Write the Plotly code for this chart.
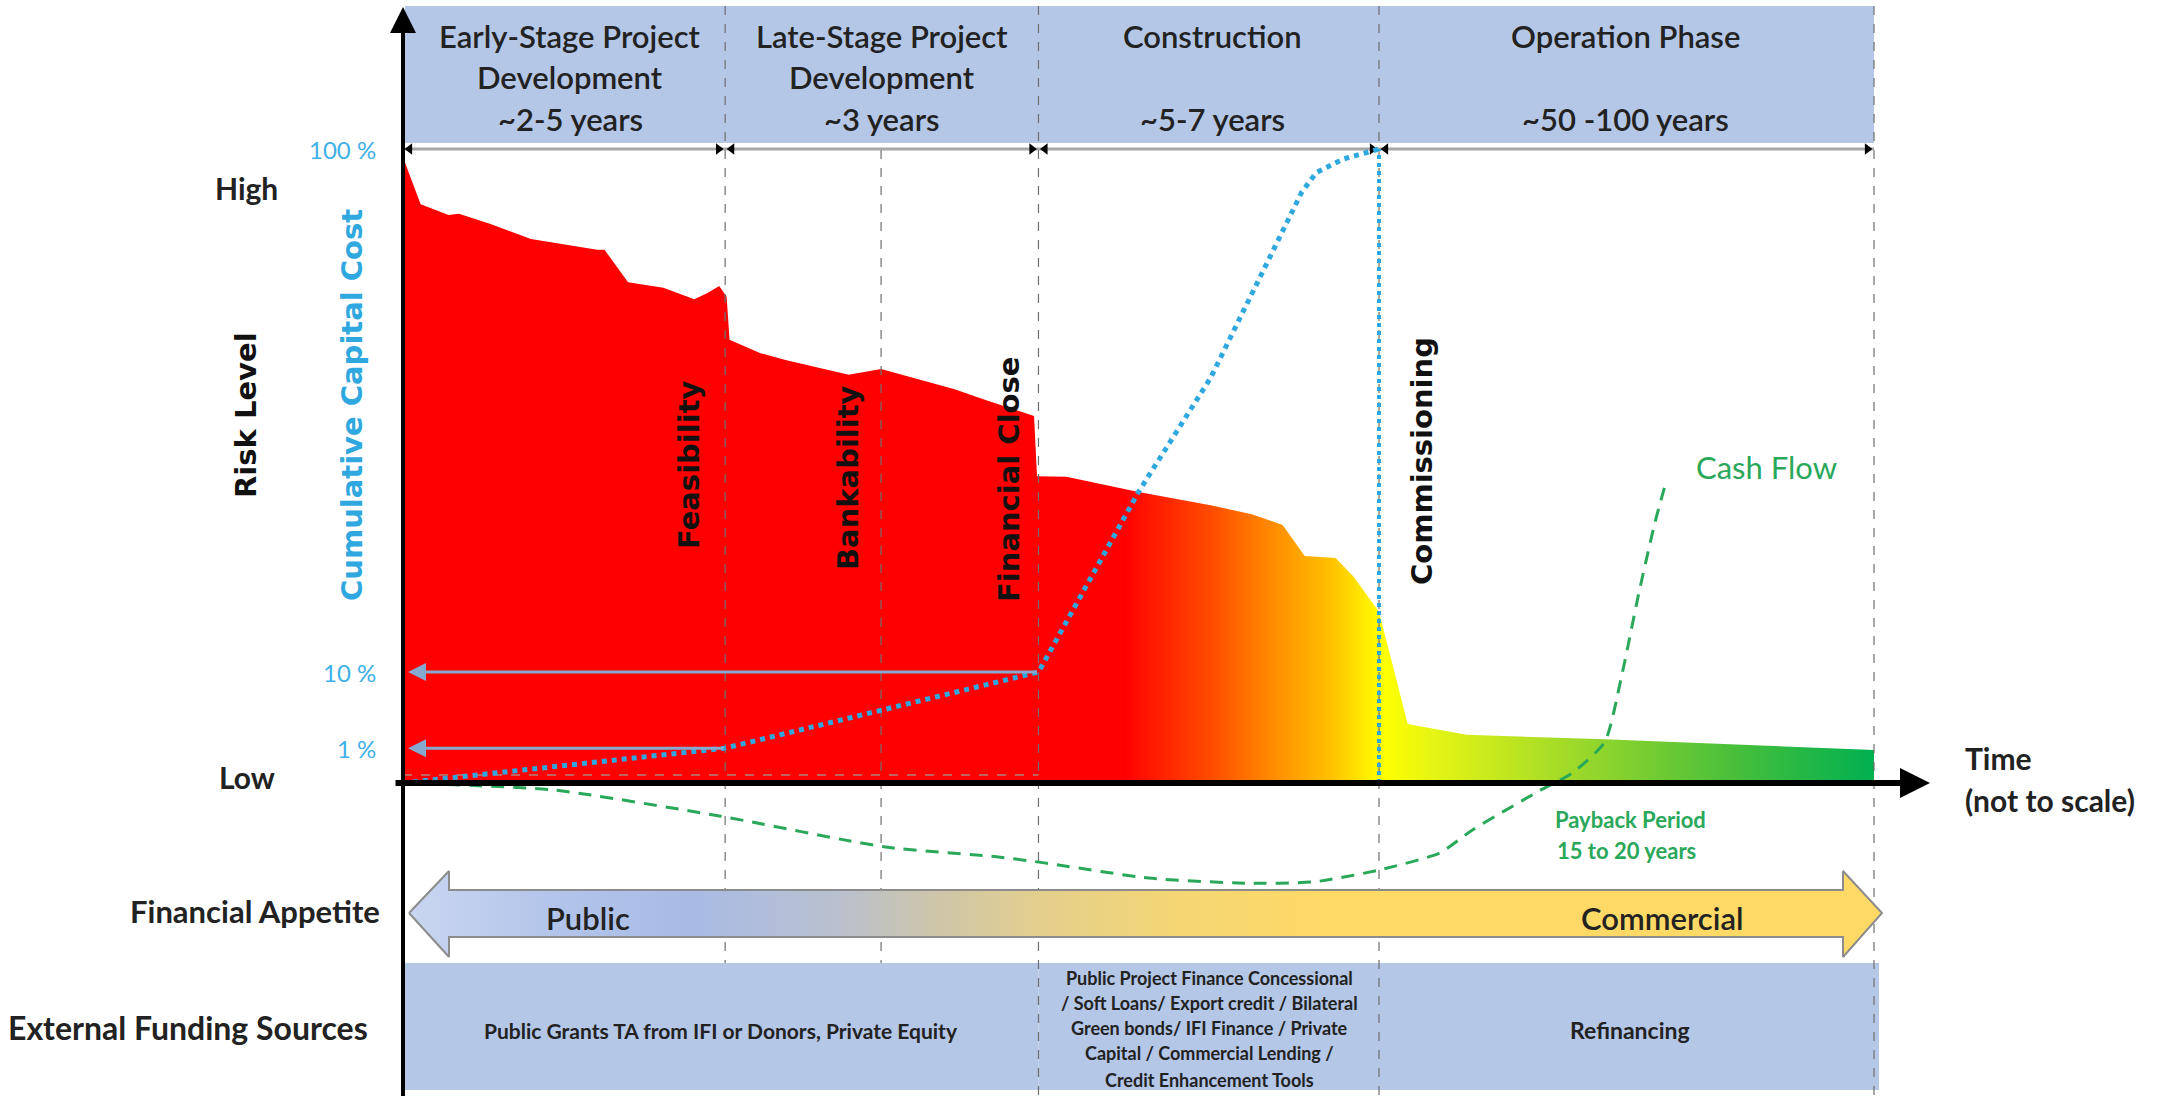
import plotly.graph_objects as go

W, H = 2169, 1096
X0_PX, X100_PX = 403, 1874
Y0_PX, Y100_PX = 783, 149


def X(px):
    return (px - X0_PX) / (X100_PX - X0_PX) * 100


def Y(py):
    return (Y0_PX - py) / (Y0_PX - Y100_PX) * 100


# ---------------- data ----------------
phase_bounds = [0, 21.9, 43.2, 66.35, 100]
phase_titles = [
    ["Early-Stage Project", "Development", "~2-5 years"],
    ["Late-Stage Project", "Development", "~3 years"],
    ["Construction", "", "~5-7 years"],
    ["Operation Phase", "", "~50 -100 years"],
]
milestone_names = ["Feasibility", "Bankability", "Financial Close", "Commissioning"]
milestone_x = [21.9, 32.5, 43.2, 66.35]

risk_t = [0, 0.5, 1.2, 3.1, 3.8, 5.9, 8.7, 13.2, 13.7, 15.3, 17.7, 19.8, 20.7, 21.5, 22.0, 22.2,
          24.3, 26.0, 30.3, 32.5, 34.7, 37.5, 39.6, 42.9, 43.1, 45.1, 50.0, 54.9, 57.7, 59.8,
          61.3, 63.4, 64.6, 66.35, 68.3, 70.5, 72.3, 81.7, 93.0, 100]
risk_level = [98.7, 95.5, 91.3, 89.6, 89.8, 88.2, 85.8, 84.1, 84.1, 79.0, 78.1, 76.3, 77.3, 78.4, 76.7, 69.9,
              67.8, 66.7, 64.4, 65.3, 63.9, 62.1, 60.4, 57.9, 48.4, 48.3, 45.9, 43.8, 42.4, 40.7,
              35.8, 35.5, 32.6, 27.0, 9.3, 8.4, 7.6, 6.9, 5.8, 5.2]
risk_colors = [[0, "#ff0000"], [0.49, "#ff0000"], [0.55, "#ff4d00"], [0.59, "#ff8a00"],
               [0.63, "#ffc000"], [0.665, "#ffff00"], [0.70, "#e6f514"], [0.80, "#9ad82a"],
               [0.90, "#4cc03a"], [1.0, "#00b050"]]

cost_t = [0, 21.9, 43.2, 50.0, 54.9, 58.3, 61.1, 62.1, 63.9, 66.35]
cost_level = [0, 5.5, 17.5, 45.9, 63.9, 79.8, 93.2, 96.3, 98.4, 100]
cost_tick_labels = ["1 %", "10 %", "100 %"]
cost_tick_levels = [5.5, 17.5, 100]
cost_tick_from = [21.9, 43.2]

cash_t = [0, 10.2, 21.5, 32.8, 40.6, 43.6, 50.7, 57.3, 61.9, 66.4, 70.5, 72.7, 77.2, 79.5,
          81.7, 82.8, 84.0, 85.1, 85.9]
cash_val = [0, -1.1, -5.2, -10.1, -11.7, -12.6, -15.0, -15.8, -15.6, -13.7, -11.0, -7.4, -1.3, 1.6,
            6.5, 16.4, 29.8, 41.0, 47.8]

appetite_labels = ["Public", "Commercial"]
appetite_colors = [[0, "#c9d6f0"], [0.1, "#b2c4ea"], [0.19, "#a8bbe5"], [0.29, "#b9c0cf"],
                   [0.36, "#cec6a8"], [0.43, "#e4cf8c"], [0.52, "#f4d674"], [0.62, "#fed966"],
                   [1, "#ffd966"]]

funding_bounds = [0, 43.2, 66.35, X(1879)]
funding_texts = [
    ["Public Grants TA from IFI or Donors, Private Equity"],
    ["Public Project Finance Concessional", "/ Soft Loans/ Export credit / Bilateral",
     "Green bonds/ IFI Finance / Private", "Capital / Commercial Lending /",
     "Credit Enhancement Tools"],
    ["Refinancing"],
]

# ---------------- styles ----------------
CAL = "Lato"
VER = "DejaVu Sans"
DARK = "#222222"
BLUE = "#2fa8e0"
GREEN = "#2aa85a"
BAND = "#b4c7e7"

fig = go.Figure()
shapes = []
ann = []

# header band
shapes.append(dict(type="rect", xref="x", yref="y", x0=X(405), x1=phase_bounds[-1],
                   y0=Y(143), y1=Y(6), fillcolor=BAND, line=dict(width=0), layer="below"))
# funding boxes
for i in range(len(funding_bounds) - 1):
    shapes.append(dict(type="rect", xref="x", yref="y", x0=funding_bounds[i], x1=funding_bounds[i + 1],
                       y0=Y(1090), y1=Y(963), fillcolor=BAND, line=dict(width=0), layer="below"))

# risk area
fig.add_trace(go.Scatter(x=risk_t, y=risk_level, mode="lines", line=dict(width=0, color="red"),
                         fill="tozeroy", fillgradient=dict(type="horizontal", colorscale=risk_colors),
                         hoverinfo="skip"))

# faint baseline dashed
fig.add_trace(go.Scatter(x=[0, 43.2], y=[Y(775), Y(775)], mode="lines",
                         line=dict(color="#b08080", width=1.5, dash="dash"), hoverinfo="skip"))

# dividers
div_top = {21.9: Y(6), 32.5: Y(150), 43.2: Y(6), 66.35: Y(6), 100: Y(6)}
div_bot = {21.9: Y(963), 32.5: Y(963), 43.2: Y(H), 66.35: Y(H), 100: Y(H)}
for xv in [21.9, 32.5, 43.2, 66.35, 100]:
    fig.add_trace(go.Scatter(x=[xv, xv], y=[div_top[xv], div_bot[xv]], mode="lines",
                             line=dict(color="#6f6f6f", width=1.2, dash="dash"), hoverinfo="skip"))

# header arrow line
fig.add_trace(go.Scatter(x=[phase_bounds[0], phase_bounds[-1]], y=[100, 100], mode="lines",
                         line=dict(color="#a6a6a6", width=3), hoverinfo="skip"))
tri_x, tri_sym = [], []
for i in range(len(phase_bounds) - 1):
    tri_x += [phase_bounds[i] + 0.45, phase_bounds[i + 1] - 0.45]
    tri_sym += ["triangle-left", "triangle-right"]
fig.add_trace(go.Scatter(x=tri_x, y=[100] * len(tri_x), mode="markers",
                         marker=dict(symbol=tri_sym, size=10, color="black"), hoverinfo="skip"))

# financial appetite arrow
tipL, baseL, baseR, tipR = X(409), X(449), X(1843), X(1882)
cy, bt, bb, ht, hb = Y(913), Y(890), Y(937), Y(871), Y(957)
ax_ = [tipL, baseL, baseL, baseR, baseR, tipR, baseR, baseR, baseL, baseL, tipL]
ay_ = [cy, ht, bt, bt, ht, cy, hb, bb, bb, hb, cy]
fig.add_trace(go.Scatter(x=ax_, y=ay_, mode="lines", line=dict(color="#8c8c8c", width=2),
                         fill="toself", fillgradient=dict(type="horizontal", colorscale=appetite_colors),
                         hoverinfo="skip"))

# commissioning vertical blue dotted
fig.add_trace(go.Scatter(x=[66.35, 66.35], y=[0, 100], mode="lines",
                         line=dict(color=BLUE, width=4, dash="dot"), hoverinfo="skip"))

# cash flow
fig.add_trace(go.Scatter(x=cash_t, y=cash_val, mode="lines",
                         line=dict(color=GREEN, width=3, dash="13px,9px", shape="spline", smoothing=0.6),
                         hoverinfo="skip"))

# cumulative cost
fig.add_trace(go.Scatter(x=cost_t, y=cost_level, mode="lines",
                         line=dict(color=BLUE, width=5, dash="dot"), hoverinfo="skip"))

# cost level arrows to the axis
for lv, xf in zip(cost_tick_levels[:2], cost_tick_from):
    ann.append(dict(x=X(408), y=lv, ax=xf, ay=lv, xref="x", yref="y", axref="x", ayref="y",
                    text="", showarrow=True, arrowhead=2, arrowsize=1.2, arrowwidth=3,
                    arrowcolor="#86a9d0"))
for lab, lv in zip(cost_tick_labels, cost_tick_levels):
    ann.append(dict(x=X(378), y=lv, text=lab, showarrow=False, xanchor="right", yanchor="middle",
                    font=dict(family=CAL, size=24, color="#3fb0e8")))

# axes arrows
ann.append(dict(x=X(1930), y=0, ax=X(394), ay=0, xref="x", yref="y", axref="x", ayref="y",
                text="", showarrow=True, arrowhead=2, arrowsize=1, arrowwidth=6, arrowcolor="black"))
ann.append(dict(x=0, y=Y(7), ax=0, ay=Y(H + 5), xref="x", yref="y", axref="x", ayref="y",
                text="", showarrow=True, arrowhead=2, arrowsize=1.3, arrowwidth=4, arrowcolor="black"))

# header texts
hdr_cx = [X(570), X(882), X(1212), X(1625)]
hdr_y = [Y(36), Y(77), Y(119)]
for ti, cx in zip(phase_titles, hdr_cx):
    for j, line in enumerate(ti):
        if line:
            ann.append(dict(x=cx, y=hdr_y[j], text=line, showarrow=False,
                            font=dict(family=CAL, size=31, color=DARK, weight=600)))

# milestone rotated labels
ms_pos = [(X(689), Y(465)), (X(848), Y(478)), (X(1009), Y(480)), (X(1422), Y(461))]
for name, (mx, my) in zip(milestone_names, ms_pos):
    ann.append(dict(x=mx, y=my, text=name, showarrow=False, textangle=-90,
                    font=dict(family=VER, size=29, color="#111111", weight="bold")))

# left axis titles
ann.append(dict(x=X(246), y=Y(415), text="Risk Level", showarrow=False, textangle=-90,
                font=dict(family=VER, size=29, color="#111111", weight="bold")))
ann.append(dict(x=X(352), y=Y(405), text="Cumulative Capital Cost", showarrow=False, textangle=-90,
                font=dict(family=VER, size=29, color=BLUE, weight="bold")))
ann.append(dict(x=X(246), y=Y(188), text="High", showarrow=False,
                font=dict(family=CAL, size=30, color=DARK, weight="bold")))
ann.append(dict(x=X(247), y=Y(777), text="Low", showarrow=False,
                font=dict(family=CAL, size=30, color=DARK, weight="bold")))

# time label
ann.append(dict(x=X(1963), y=Y(758), text="Time", showarrow=False, xanchor="left",
                font=dict(family=CAL, size=30, color=DARK, weight="bold")))
ann.append(dict(x=X(1963), y=Y(800), text="(not to scale)", showarrow=False, xanchor="left",
                font=dict(family=CAL, size=30, color=DARK, weight="bold")))

# cash flow labels
ann.append(dict(x=X(1766), y=Y(467), text="Cash Flow", showarrow=False,
                font=dict(family=CAL, size=31, color=GREEN)))
ann.append(dict(x=X(1630), y=Y(819), text="Payback Period", showarrow=False,
                font=dict(family=CAL, size=22, color=GREEN, weight="bold")))
ann.append(dict(x=X(1626), y=Y(850), text="15 to 20 years", showarrow=False,
                font=dict(family=CAL, size=22, color=GREEN, weight="bold")))

# appetite labels
ann.append(dict(x=X(588), y=Y(918), text=appetite_labels[0], showarrow=False,
                font=dict(family=CAL, size=31, color=DARK, weight=600)))
ann.append(dict(x=X(1662), y=Y(918), text=appetite_labels[1], showarrow=False,
                font=dict(family=CAL, size=31, color=DARK, weight=600)))

# row labels
ann.append(dict(x=X(382), y=Y(911), text="Financial Appetite", showarrow=False, xanchor="right",
                font=dict(family=CAL, size=31, color=DARK, weight="bold")))
ann.append(dict(x=X(370), y=Y(1027), text="External Funding Sources", showarrow=False, xanchor="right",
                font=dict(family=CAL, size=32, color=DARK, weight="bold")))

# funding texts
ann.append(dict(x=X(721), y=Y(1030), text=funding_texts[0][0], showarrow=False,
                font=dict(family=CAL, size=21, color=DARK, weight="bold")))
mid_y = [978, 1003, 1028, 1053, 1080]
for line, py in zip(funding_texts[1], mid_y):
    ann.append(dict(x=X(1209), y=Y(py), text=line, showarrow=False,
                    font=dict(family=CAL, size=18, color=DARK, weight="bold")))
ann.append(dict(x=X(1630), y=Y(1030), text=funding_texts[2][0], showarrow=False,
                font=dict(family=CAL, size=23, color=DARK, weight="bold")))

fig.update_layout(
    width=W, height=H, margin=dict(l=0, r=0, t=0, b=0),
    paper_bgcolor="white", plot_bgcolor="white", showlegend=False,
    xaxis=dict(range=[X(0), X(W)], visible=False, fixedrange=True),
    yaxis=dict(range=[Y(H), Y(0)], visible=False, fixedrange=True),
    shapes=shapes, annotations=ann,
)
fig.write_html("out.html")
